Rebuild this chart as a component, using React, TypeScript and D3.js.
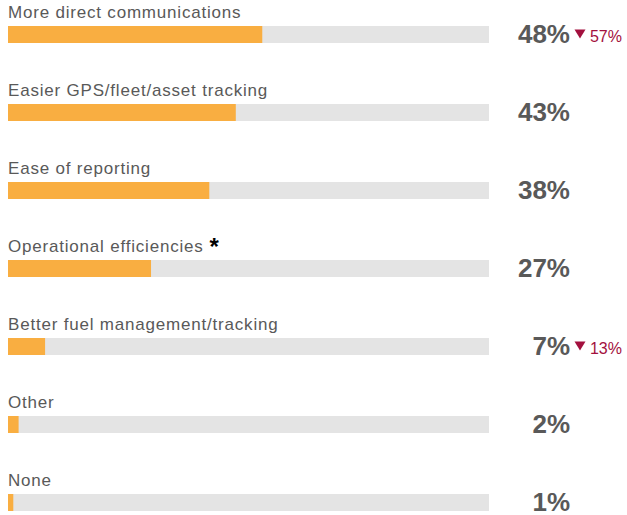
import React from "react";
import * as d3 from "d3";

const categories = [
  "More direct communications",
  "Easier GPS/fleet/asset tracking",
  "Ease of reporting",
  "Operational efficiencies",
  "Better fuel management/tracking",
  "Other",
  "None",
];
const values = [48, 43, 38, 27, 7, 2, 1];
const valueLabels = ["48%", "43%", "38%", "27%", "7%", "2%", "1%"];
const changeLabels = ["57%", "", "", "", "13%", "", ""];
const starred = ["Operational efficiencies"];

const width = 627, height = 515;
const barLeft = 8, barRight = 489;
const barH = 17;
const orange = "#F9AE41";
const track = "#E4E4E4";
const textCol = "#595959";
const red = "#A3103E";
const font = "Liberation Sans, Arial, sans-serif";

const App = () => {
  const x = d3.scaleLinear().domain([0, 90.8]).range([barLeft, barRight]);
  const y = d3.scaleBand().domain(categories).range([26, 26 + 78 * 7]).paddingInner(0);

  const rows = categories.map((c, i) => {
    const top = y(c) as number;
    const base = top + barH / 2 + 8;
    return (
      <g key={c}>
        <text x={barLeft} y={top - 8} fontSize={17} letterSpacing={0.8} fill={textCol} fontFamily={font}>
          {c}
          {starred.includes(c) ? (
            <tspan fill="#000" fontWeight="bold" fontSize={24} dx={6} dy={3} letterSpacing={0}>*</tspan>
          ) : null}
        </text>
        <rect x={barLeft} y={top} width={barRight - barLeft} height={barH} fill={track} />
        <rect x={barLeft} y={top} width={x(values[i]) - barLeft} height={barH} fill={orange} />
        <text x={570} y={base} textAnchor="end" fontSize={26} fontWeight="bold" fill={textCol} fontFamily={font}>
          {valueLabels[i]}
        </text>
        {changeLabels[i] ? (
          <g>
            <path d={`M574.5,${base - 13}L585.5,${base - 13}L580,${base - 4}Z`} fill={red} />
            <text x={622} y={base - 1} textAnchor="end" fontSize={16} fill={red} fontFamily={font}>
              {changeLabels[i]}
            </text>
          </g>
        ) : null}
      </g>
    );
  });

  return (
    <svg width={width} height={height} style={{ position: "absolute", left: 0, top: 0 }}>
      <rect width={width} height={height} fill="#fff" />
      {rows}
    </svg>
  );
};

export default App;
